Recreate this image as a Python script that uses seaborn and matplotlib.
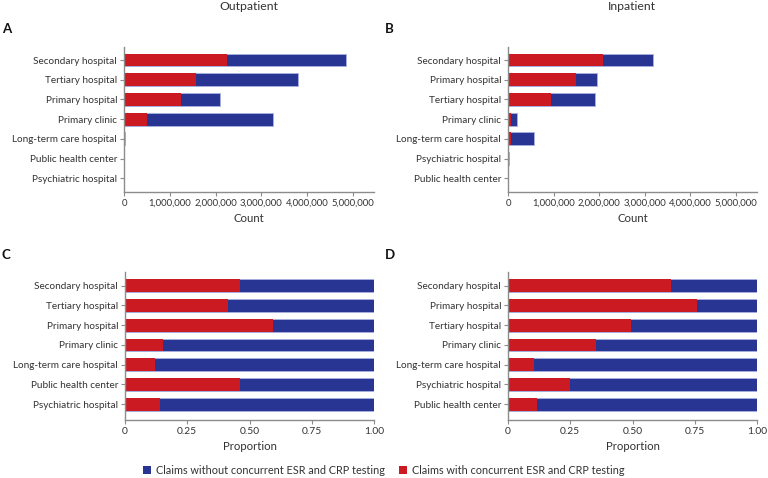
import matplotlib
matplotlib.use("Agg")
import matplotlib.pyplot as plt
from matplotlib.patches import Patch
import seaborn as sns
import pandas as pd

# ---- data ----
out_cats = ["Secondary hospital", "Tertiary hospital", "Primary hospital", "Primary clinic",
            "Long-term care hospital", "Public health center", "Psychiatric hospital"]
out_with = [2240000, 1580000, 1240000, 500000, 2400, 1400, 300]
out_without = [2600000, 2210000, 860000, 2760000, 17600, 1600, 1700]

in_cats = ["Secondary hospital", "Primary hospital", "Tertiary hospital", "Primary clinic",
           "Long-term care hospital", "Psychiatric hospital", "Public health center"]
in_with = [2080000, 1490000, 940000, 70000, 60000, 7400, 240]
in_without = [1100000, 470000, 970000, 128000, 520000, 22600, 1760]

out_prop_with = [0.462, 0.415, 0.595, 0.153, 0.122, 0.462, 0.142]
out_prop_without = [0.538, 0.585, 0.405, 0.847, 0.878, 0.538, 0.858]
in_prop_with = [0.653, 0.760, 0.495, 0.354, 0.103, 0.247, 0.118]
in_prop_without = [0.347, 0.240, 0.505, 0.646, 0.897, 0.753, 0.882]

count_ticks = [0, 1000000, 2000000, 3000000, 4000000, 5000000]
prop_ticks = [0, 0.25, 0.50, 0.75, 1.00]
prop_tick_labels = ["0", "0.25", "0.50", "0.75", "1.00"]

legend_labels = ["Claims without concurrent ESR and CRP testing",
                 "Claims with concurrent ESR and CRP testing"]

RED = "#cc1a22"
BLUE = "#283593"
EDGE = "#a9b1e0"
GREY = "#8c8c8c"
TXT = "#333333"

sns.set_style("white")
plt.rcParams["font.family"] = ["Lato", "DejaVu Sans"]

W, H = 768, 478
fig = plt.figure(figsize=(W / 100, H / 100), dpi=100)


def px_axes(left, top, right, bottom):
    return fig.add_axes([left / W, 1 - bottom / H, (right - left) / W, (bottom - top) / H])


def panel(ax, cats, with_vals, without_vals, xlabel, xlim, ticks, ticklabels, ylim, xsize):
    df = pd.DataFrame({"cat": cats, "with": with_vals, "without": without_vals})
    df["total"] = df["with"] + df["without"]
    sns.barplot(data=df, x="total", y="cat", order=cats, orient="h", color=BLUE,
                width=0.65, edgecolor=EDGE, linewidth=0.6, saturation=1, ax=ax)
    sns.barplot(data=df, x="with", y="cat", order=cats, orient="h", color=RED,
                width=0.65, linewidth=0, saturation=1, ax=ax)
    ax.set_xlim(*xlim)
    ax.set_ylim(*ylim)
    ax.set_xticks(ticks)
    ax.set_xticklabels(ticklabels)
    ax.set_xlabel(xlabel, fontsize=8.2, color=TXT, labelpad=4)
    ax.set_ylabel("")
    for s in ["top", "right"]:
        ax.spines[s].set_visible(False)
    for s in ["left", "bottom"]:
        ax.spines[s].set_color(GREY)
        ax.spines[s].set_linewidth(1.0)
    ax.tick_params(axis="both", which="both", length=3, width=0.8, color=GREY,
                   labelcolor=TXT, pad=2, left=True, bottom=True)
    ax.tick_params(axis="y", labelsize=7.2)
    ax.tick_params(axis="x", labelsize=xsize)
    ax.grid(False)


count_labels = [f"{v:,}" for v in count_ticks]

axA = px_axes(124, 46.7, 374, 191.7)
panel(axA, out_cats, out_with, out_without, "Count", (0, 5460000), count_ticks, count_labels, (6.68, -0.68), 6.8)
axB = px_axes(508, 46.7, 757, 191.7)
panel(axB, in_cats, in_with, in_without, "Count", (0, 5460000), count_ticks, count_labels, (6.68, -0.68), 6.8)
axC = px_axes(125, 272.3, 374, 420)
panel(axC, out_cats, out_prop_with, out_prop_without, "Proportion", (0, 1.0), prop_ticks, prop_tick_labels, (6.8, -0.68), 7.4)
axD = px_axes(508, 272.3, 757, 420)
panel(axD, in_cats, in_prop_with, in_prop_without, "Proportion", (0, 1.0), prop_ticks, prop_tick_labels, (6.8, -0.68), 7.4)

fig.text(249 / W, 1 - 7 / H, "Outpatient", ha="center", va="center", fontsize=8.8, color=TXT)
fig.text(632 / W, 1 - 7 / H, "Inpatient", ha="center", va="center", fontsize=8.8, color=TXT)
for lbl, x, y in [("A", 2, 29), ("B", 385, 29), ("C", 2, 255), ("D", 385, 255)]:
    fig.text(x / W, 1 - y / H, lbl, ha="left", va="center", fontsize=9.5, fontweight="bold", color="#111111")

handles = [Patch(facecolor=BLUE, edgecolor="none"), Patch(facecolor=RED, edgecolor="none")]
fig.legend(handles, legend_labels, loc="center", bbox_to_anchor=(0.5, 1 - 470 / H), ncol=2,
           frameon=False, fontsize=7.8, handlelength=0.7, handleheight=0.7, handletextpad=0.5,
           columnspacing=1.3, labelcolor=TXT)

fig.savefig("out.png", dpi=100)
